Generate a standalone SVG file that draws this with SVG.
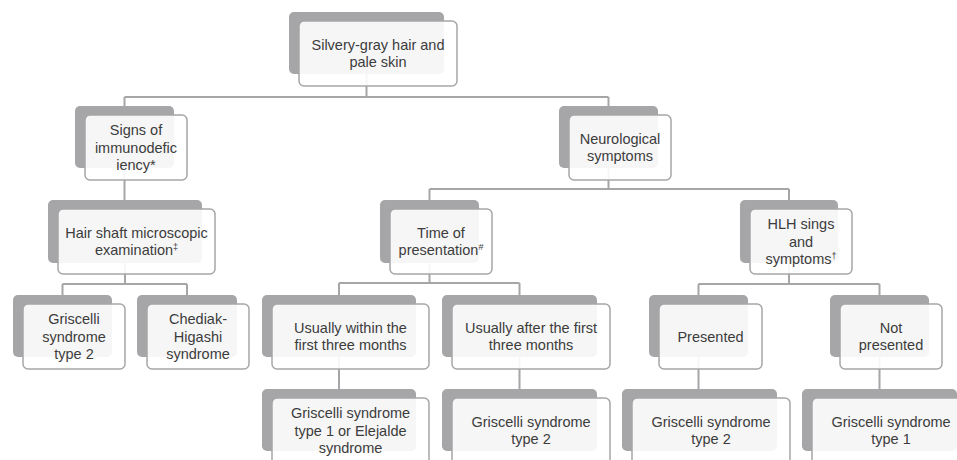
<svg xmlns="http://www.w3.org/2000/svg" width="957" height="460" viewBox="0 0 957 460">
<style>
.back{fill:#a6a6a8}
.front{fill:#ffffff;fill-opacity:0.9;stroke:#a6a6a8;stroke-width:1.5}
.lbl{font-family:"Liberation Sans",Arial,sans-serif;font-size:14.5px;fill:#3c3c3c;text-anchor:middle}
.sup{font-size:9px}
.conn{stroke:#a6a6a8;stroke-width:2;fill:none}
</style>
<rect width="957" height="460" fill="#ffffff"/>
<g id="connectors" class="conn">
<path d="M366.5 73V97M124.5 97H608.5M124.5 97V106M608.5 97V106"/>
<path d="M124.5 168V200"/>
<path d="M125 263V284M62.5 284H187M62.5 284V295M187 284V295"/>
<path d="M608.5 168V189M429.5 189H789M429.5 189V200M789 189V200"/>
<path d="M429.5 263V283M339 283H519.5M339 283V295M519.5 283V295"/>
<path d="M339 357V389M519.5 357V389"/>
<path d="M789 263V284M698.5 284H879.5M698.5 284V295M879.5 284V295"/>
<path d="M698.5 357V389M879.5 357V389"/>
</g>
<g id="n-root">
<rect class="back" x="289" y="12" width="155" height="62" rx="5"/>
<rect class="front" x="299" y="21" width="158" height="65" rx="5"/>
<text class="lbl" x="378" y="49.75">Silvery-gray hair and</text>
<text class="lbl" x="378" y="67.25">pale skin</text>
</g>
<g id="n-signs">
<rect class="back" x="75" y="106" width="99" height="62" rx="5"/>
<rect class="front" x="85" y="115" width="102" height="65" rx="5"/>
<text class="lbl" x="136" y="135">Signs of</text>
<text class="lbl" x="136" y="152.5">immunodefic</text>
<text class="lbl" x="136" y="170">iency*</text>
</g>
<g id="n-neuro">
<rect class="back" x="559" y="106" width="99" height="62" rx="5"/>
<rect class="front" x="569" y="115" width="102" height="65" rx="5"/>
<text class="lbl" x="620" y="143.75">Neurological</text>
<text class="lbl" x="620" y="161.25">symptoms</text>
</g>
<g id="n-hair">
<rect class="back" x="48" y="200" width="154" height="63" rx="5"/>
<rect class="front" x="58" y="209" width="157" height="65" rx="5"/>
<text class="lbl" x="136.5" y="237.75">Hair shaft microscopic</text>
<text class="lbl" x="136.5" y="255.25">examination<tspan class="sup" dy="-5">‡</tspan></text>
</g>
<g id="n-time">
<rect class="back" x="380" y="200" width="99" height="63" rx="5"/>
<rect class="front" x="390" y="209" width="102" height="65" rx="5"/>
<text class="lbl" x="441" y="237.75">Time of</text>
<text class="lbl" x="441" y="255.25">presentation<tspan class="sup" dy="-5">#</tspan></text>
</g>
<g id="n-hlh">
<rect class="back" x="740" y="200" width="98" height="63" rx="5"/>
<rect class="front" x="750" y="209" width="102" height="65" rx="5"/>
<text class="lbl" x="801" y="229">HLH sings</text>
<text class="lbl" x="801" y="246.5">and</text>
<text class="lbl" x="801" y="264">symptoms<tspan class="sup" dy="-5">†</tspan></text>
</g>
<g id="n-gs2-left">
<rect class="back" x="13" y="295" width="99" height="62" rx="5"/>
<rect class="front" x="23" y="304" width="102" height="65" rx="5"/>
<text class="lbl" x="74" y="324">Griscelli</text>
<text class="lbl" x="74" y="341.5">syndrome</text>
<text class="lbl" x="74" y="359">type 2</text>
</g>
<g id="n-chediak">
<rect class="back" x="137" y="295" width="100" height="62" rx="5"/>
<rect class="front" x="147" y="304" width="102" height="65" rx="5"/>
<text class="lbl" x="198" y="324">Chediak-</text>
<text class="lbl" x="198" y="341.5">Higashi</text>
<text class="lbl" x="198" y="359">syndrome</text>
</g>
<g id="n-within">
<rect class="back" x="262" y="295" width="154" height="62" rx="5"/>
<rect class="front" x="272" y="304" width="157" height="65" rx="5"/>
<text class="lbl" x="350.5" y="332.75">Usually within the</text>
<text class="lbl" x="350.5" y="350.25">first three months</text>
</g>
<g id="n-after">
<rect class="back" x="442" y="295" width="155" height="62" rx="5"/>
<rect class="front" x="452" y="304" width="158" height="65" rx="5"/>
<text class="lbl" x="531" y="332.75">Usually after the first</text>
<text class="lbl" x="531" y="350.25">three months</text>
</g>
<g id="n-presented">
<rect class="back" x="649" y="295" width="99" height="62" rx="5"/>
<rect class="front" x="659" y="304" width="103" height="65" rx="5"/>
<text class="lbl" x="710.5" y="341.5">Presented</text>
</g>
<g id="n-notpresented">
<rect class="back" x="830" y="295" width="99" height="62" rx="5"/>
<rect class="front" x="840" y="304" width="102" height="65" rx="5"/>
<text class="lbl" x="891" y="332.75">Not</text>
<text class="lbl" x="891" y="350.25">presented</text>
</g>
<g id="n-gs1-elejalde">
<rect class="back" x="262" y="389" width="154" height="62" rx="5"/>
<rect class="front" x="272" y="398" width="157" height="67" rx="5"/>
<text class="lbl" x="350.5" y="418">Griscelli syndrome</text>
<text class="lbl" x="350.5" y="435.5">type 1 or Elejalde</text>
<text class="lbl" x="350.5" y="453">syndrome</text>
</g>
<g id="n-gs2-mid">
<rect class="back" x="442" y="389" width="155" height="62" rx="5"/>
<rect class="front" x="452" y="398" width="158" height="67" rx="5"/>
<text class="lbl" x="531" y="426.75">Griscelli syndrome</text>
<text class="lbl" x="531" y="444.25">type 2</text>
</g>
<g id="n-gs2-right">
<rect class="back" x="622" y="389" width="155" height="62" rx="5"/>
<rect class="front" x="632" y="398" width="158" height="67" rx="5"/>
<text class="lbl" x="711" y="426.75">Griscelli syndrome</text>
<text class="lbl" x="711" y="444.25">type 2</text>
</g>
<g id="n-gs1-right">
<rect class="back" x="802" y="389" width="155" height="62" rx="5"/>
<rect class="front" x="812" y="398" width="158" height="67" rx="5"/>
<text class="lbl" x="891" y="426.75">Griscelli syndrome</text>
<text class="lbl" x="891" y="444.25">type 1</text>
</g>
</svg>
